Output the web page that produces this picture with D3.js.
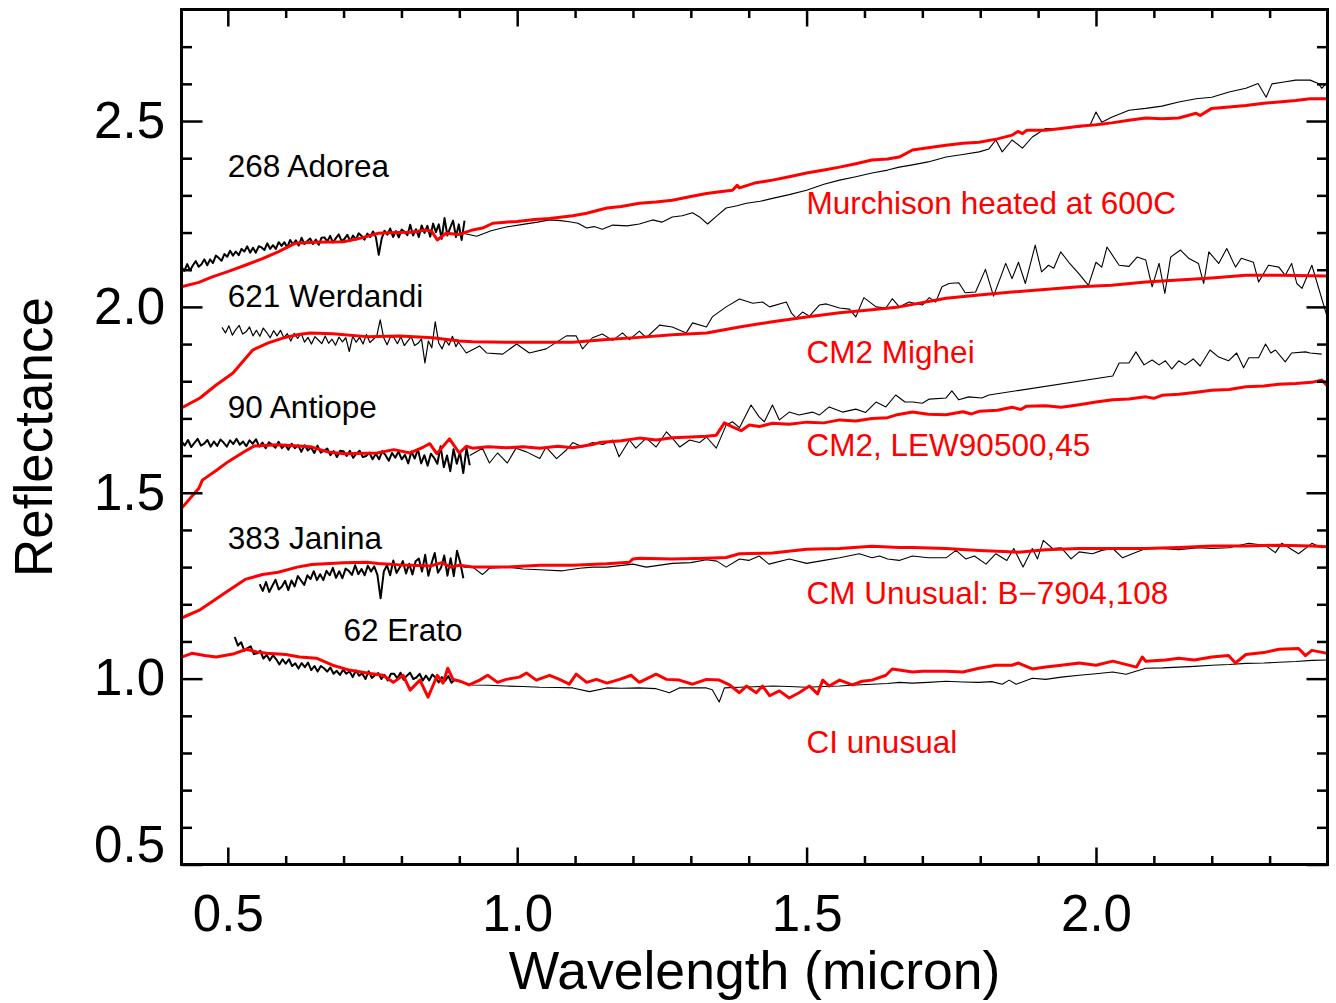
<!DOCTYPE html>
<html>
<head>
<meta charset="utf-8">
<script src="https://cdn.jsdelivr.net/npm/d3@7"></script>
<style>
  body { margin: 0; background: #fff; }
  svg { font-family: "Liberation Sans", Arial, Helvetica, sans-serif; }
</style>
</head>
<body>
<div id="chart"></div>
<script>
// ---- data (wavelength in micron, reflectance offset for display) ----

const asteroidNames = ["268 Adorea", "621 Werdandi", "90 Antiope", "383 Janina", "62 Erato"];
const meteoriteNames = ["Murchison heated at 600C", "CM2 Mighei", "CM2, LEW90500,45", "CM Unusual: B\u22127904,108", "CI unusual"];
const xTickLabels = [0.5, 1.0, 1.5, 2.0];
const yTickLabels = [0.5, 1.0, 1.5, 2.0, 2.5];

// visible spectra: evenly sampled between the two wavelengths of the range
const adoreaVisRange = [0.420, 0.909];
const adoreaVis = [
  2.107, 2.097, 2.115, 2.098, 2.112, 2.123, 2.108, 2.115, 2.128, 2.112,
  2.128, 2.118, 2.138, 2.132, 2.124, 2.142, 2.135, 2.151, 2.138, 2.149,
  2.139, 2.156, 2.149, 2.163, 2.146, 2.159, 2.146, 2.163, 2.160, 2.153,
  2.171, 2.156, 2.166, 2.156, 2.174, 2.164, 2.174, 2.160, 2.180, 2.168,
  2.179, 2.165, 2.186, 2.169, 2.177, 2.184, 2.169, 2.181, 2.167, 2.186,
  2.187, 2.176, 2.191, 2.173, 2.185, 2.195, 2.177, 2.183, 2.194, 2.177,
  2.192, 2.181, 2.198, 2.191, 2.181, 2.197, 2.188, 2.203, 2.187, 2.140,
  2.183, 2.205, 2.194, 2.211, 2.188, 2.204, 2.187, 2.208, 2.202, 2.193,
  2.221, 2.192, 2.209, 2.188, 2.219, 2.199, 2.218, 2.189, 2.224, 2.201,
  2.222, 2.183, 2.239, 2.192, 2.213, 2.232, 2.188, 2.222, 2.180, 2.232
];
const werdandiVisRange = [0.490, 0.900];
const werdandiVis = [
  1.945, 1.930, 1.949, 1.924, 1.939, 1.950, 1.927, 1.933, 1.946, 1.922,
  1.937, 1.921, 1.943, 1.931, 1.917, 1.936, 1.922, 1.937, 1.917, 1.928,
  1.908, 1.929, 1.915, 1.929, 1.905, 1.918, 1.900, 1.920, 1.911, 1.901,
  1.922, 1.902, 1.913, 1.897, 1.919, 1.906, 1.917, 1.880, 1.921, 1.905,
  1.918, 1.900, 1.926, 1.904, 1.913, 1.922, 1.965, 1.917, 1.898, 1.920,
  1.917, 1.901, 1.920, 1.896, 1.908, 1.920, 1.896, 1.902, 1.914, 1.849,
  1.908, 1.890, 1.960, 1.903, 1.887, 1.911, 1.897, 1.921, 1.893, 1.910
];
const antiopeVisRange = [0.420, 0.918];
const antiopeVis = [
  1.639, 1.627, 1.642, 1.623, 1.634, 1.645, 1.627, 1.632, 1.642, 1.624,
  1.638, 1.626, 1.643, 1.635, 1.624, 1.641, 1.631, 1.645, 1.629, 1.638,
  1.625, 1.641, 1.632, 1.644, 1.624, 1.635, 1.620, 1.636, 1.629, 1.621,
  1.637, 1.620, 1.629, 1.616, 1.632, 1.620, 1.628, 1.610, 1.628, 1.614,
  1.622, 1.607, 1.627, 1.608, 1.613, 1.619, 1.601, 1.612, 1.596, 1.613,
  1.612, 1.599, 1.613, 1.594, 1.605, 1.613, 1.596, 1.599, 1.608, 1.590,
  1.605, 1.590, 1.612, 1.601, 1.586, 1.607, 1.594, 1.611, 1.590, 1.602,
  1.579, 1.611, 1.592, 1.617, 1.579, 1.601, 1.573, 1.605, 1.594, 1.578,
  1.625, 1.569, 1.600, 1.558, 1.617, 1.578, 1.609, 1.553, 1.620, 1.574
];
const janinaVisRange = [0.555, 0.907];
const janinaVis = [
  1.254, 1.236, 1.260, 1.233, 1.250, 1.266, 1.240, 1.248, 1.263, 1.238,
  1.264, 1.248, 1.276, 1.264, 1.252, 1.278, 1.268, 1.289, 1.265, 1.281,
  1.265, 1.290, 1.278, 1.298, 1.271, 1.289, 1.270, 1.296, 1.290, 1.279,
  1.305, 1.281, 1.295, 1.278, 1.304, 1.288, 1.302, 1.279, 1.216, 1.288,
  1.305, 1.278, 1.318, 1.284, 1.299, 1.316, 1.283, 1.309, 1.280, 1.316,
  1.323, 1.288, 1.333, 1.277, 1.310, 1.338, 1.285, 1.299, 1.331, 1.277,
  1.324, 1.276, 1.344, 1.313, 1.270
];
const eratoVisRange = [0.512, 0.892];
const eratoVis = [
  1.112, 1.089, 1.098, 1.075, 1.082, 1.087, 1.066, 1.068, 1.075, 1.054,
  1.064, 1.049, 1.063, 1.052, 1.038, 1.052, 1.040, 1.052, 1.034, 1.041,
  1.027, 1.042, 1.031, 1.043, 1.023, 1.034, 1.019, 1.034, 1.028, 1.019,
  1.030, 1.013, 1.021, 1.010, 1.024, 1.013, 1.020, 1.004, 1.022, 1.008,
  1.014, 0.999, 1.020, 1.002, 1.009, 1.015, 0.999, 1.010, 0.995, 1.013,
  1.013, 1.001, 1.016, 0.997, 1.008, 1.016, 0.999, 1.003, 1.013, 0.995,
  1.008, 0.995, 1.011, 1.002, 0.990, 1.004, 0.994, 1.007, 0.989, 0.997
];

// near-infrared asteroid spectra [wavelength, reflectance]
const adoreaNir = [
  [0.900,2.200],[0.930,2.190],[0.955,2.205],[0.981,2.215],[1.010,2.222],[1.035,2.228],[1.056,2.234],[1.075,2.232],
  [1.090,2.229],[1.105,2.225],[1.120,2.212],[1.133,2.216],[1.147,2.209],[1.165,2.220],[1.190,2.218],[1.211,2.223],
  [1.234,2.234],[1.250,2.228],[1.268,2.242],[1.285,2.245],[1.303,2.253],[1.315,2.242],[1.329,2.223],[1.345,2.245],
  [1.361,2.266],[1.380,2.272],[1.396,2.279],[1.420,2.284],[1.441,2.292],[1.470,2.302],[1.500,2.314],[1.530,2.330],
  [1.557,2.341],[1.585,2.350],[1.613,2.360],[1.640,2.368],[1.660,2.376],[1.683,2.382],[1.710,2.390],[1.741,2.403],
  [1.770,2.410],[1.798,2.417],[1.815,2.425],[1.827,2.449],[1.838,2.417],[1.855,2.449],[1.873,2.427],[1.890,2.457],
  [1.913,2.480],[1.941,2.480],[1.971,2.484],[1.990,2.490],[2.000,2.524],[2.010,2.497],[2.027,2.510],[2.057,2.529],
  [2.086,2.534],[2.114,2.540],[2.143,2.551],[2.173,2.560],[2.200,2.564],[2.230,2.578],[2.259,2.588],[2.280,2.601],
  [2.294,2.564],[2.304,2.600],[2.325,2.605],[2.345,2.610],[2.370,2.610],[2.385,2.600],[2.390,2.588],[2.400,2.605]
];
const werdandiNir = [
  [0.895,1.913],[0.912,1.876],[0.935,1.895],[0.947,1.876],[0.975,1.873],[0.999,1.900],[1.021,1.876],[1.050,1.887],
  [1.085,1.922],[1.102,1.922],[1.113,1.887],[1.130,1.917],[1.147,1.927],[1.165,1.910],[1.182,1.930],[1.194,1.912],
  [1.211,1.935],[1.223,1.917],[1.246,1.951],[1.268,1.946],[1.292,1.930],[1.303,1.957],[1.327,1.946],[1.337,1.973],
  [1.361,2.000],[1.384,2.021],[1.407,2.010],[1.424,2.013],[1.436,2.000],[1.465,2.013],[1.474,1.983],[1.482,1.970],
  [1.493,1.986],[1.505,1.975],[1.522,2.005],[1.534,2.008],[1.557,1.997],[1.574,1.994],[1.585,1.973],[1.599,2.025],
  [1.620,2.000],[1.637,1.997],[1.648,2.022],[1.660,2.000],[1.677,2.013],[1.700,2.005],[1.712,2.025],[1.723,2.013],
  [1.734,2.054],[1.746,2.063],[1.763,2.065],[1.774,2.038],[1.792,2.040],[1.809,2.101],[1.823,2.029],[1.844,2.117],
  [1.855,2.076],[1.866,2.120],[1.878,2.063],[1.895,2.166],[1.906,2.094],[1.918,2.112],[1.927,2.104],[1.939,2.148],
  [1.953,2.120],[1.970,2.090],[1.987,2.058],[2.000,2.120],[2.010,2.107],[2.019,2.161],[2.040,2.112],[2.057,2.109],
  [2.071,2.134],[2.086,2.126],[2.097,2.054],[2.109,2.117],[2.119,2.036],[2.129,2.134],[2.146,2.153],[2.160,2.131],
  [2.177,2.117],[2.186,2.063],[2.195,2.148],[2.212,2.117],[2.226,2.157],[2.241,2.107],[2.251,2.131],[2.272,2.120],
  [2.281,2.067],[2.298,2.112],[2.316,2.107],[2.327,2.085],[2.338,2.117],[2.347,2.063],[2.356,2.050],[2.373,2.112],
  [2.400,1.970]
];
const antiopeNir = [
  [0.918,1.600],[0.940,1.620],[0.952,1.580],[0.966,1.607],[0.983,1.580],[0.998,1.620],[1.016,1.610],[1.039,1.592],
  [1.050,1.623],[1.068,1.592],[1.085,1.615],[1.096,1.635],[1.113,1.623],[1.130,1.635],[1.148,1.630],[1.165,1.642],
  [1.176,1.597],[1.194,1.642],[1.205,1.620],[1.223,1.647],[1.240,1.623],[1.258,1.664],[1.268,1.647],[1.281,1.623],
  [1.298,1.642],[1.315,1.635],[1.327,1.650],[1.344,1.620],[1.361,1.682],[1.372,1.691],[1.384,1.675],[1.404,1.736],
  [1.418,1.704],[1.427,1.691],[1.441,1.736],[1.453,1.696],[1.470,1.717],[1.487,1.709],[1.510,1.717],[1.522,1.709],
  [1.539,1.731],[1.562,1.717],[1.585,1.725],[1.602,1.716],[1.620,1.744],[1.637,1.731],[1.654,1.763],[1.670,1.744],
  [1.683,1.744],[1.700,1.741],[1.712,1.752],[1.741,1.755],[1.751,1.774],[1.763,1.750],[1.780,1.758],[1.803,1.755],
  [1.815,1.763],[2.029,1.814],[2.040,1.849],[2.057,1.849],[2.069,1.879],[2.083,1.844],[2.097,1.857],[2.109,1.844],
  [2.120,1.855],[2.131,1.833],[2.143,1.855],[2.154,1.844],[2.168,1.860],[2.180,1.841],[2.197,1.884],[2.212,1.865],
  [2.229,1.855],[2.243,1.876],[2.255,1.836],[2.264,1.863],[2.281,1.863],[2.293,1.900],[2.302,1.876],[2.310,1.884],
  [2.327,1.852],[2.338,1.876],[2.362,1.879],[2.370,1.876],[2.390,1.873]
];
const janinaNir = [
  [0.907,1.300],[0.923,1.300],[0.940,1.280],[0.952,1.297],[0.981,1.300],[1.010,1.295],[1.039,1.293],[1.078,1.290],
  [1.108,1.297],[1.130,1.300],[1.155,1.300],[1.200,1.308],[1.223,1.300],[1.250,1.306],[1.268,1.310],[1.300,1.312],
  [1.327,1.320],[1.345,1.316],[1.361,1.300],[1.384,1.322],[1.400,1.318],[1.418,1.330],[1.435,1.308],[1.470,1.322],
  [1.500,1.310],[1.530,1.318],[1.557,1.325],[1.591,1.336],[1.613,1.325],[1.626,1.330],[1.640,1.322],[1.660,1.318],
  [1.683,1.330],[1.710,1.325],[1.741,1.325],[1.758,1.345],[1.775,1.322],[1.790,1.330],[1.810,1.308],[1.827,1.336],
  [1.846,1.318],[1.858,1.350],[1.874,1.300],[1.890,1.350],[1.899,1.322],[1.909,1.372],[1.925,1.350],[1.940,1.352],
  [1.957,1.322],[1.971,1.341],[1.994,1.336],[2.010,1.345],[2.029,1.350],[2.046,1.325],[2.063,1.336],[2.086,1.350],
  [2.114,1.350],[2.143,1.347],[2.177,1.352],[2.200,1.350],[2.229,1.352],[2.264,1.364],[2.293,1.358],[2.310,1.339],
  [2.321,1.364],[2.350,1.336],[2.373,1.364],[2.390,1.352],[2.400,1.355]
];
const eratoNir = [
  [0.889,0.996],[0.923,0.983],[0.950,0.982],[0.981,0.980],[1.010,0.979],[1.039,0.977],[1.070,0.976],[1.096,0.975],
  [1.125,0.965],[1.155,0.975],[1.180,0.974],[1.211,0.975],[1.240,0.973],[1.263,0.962],[1.280,0.975],[1.300,0.975],
  [1.327,0.975],[1.337,0.970],[1.349,0.937],[1.358,0.975],[1.384,0.977],[1.410,0.978],[1.441,0.980],[1.470,0.979],
  [1.500,0.977],[1.530,0.979],[1.557,0.980],[1.585,0.983],[1.613,0.985],[1.640,0.987],[1.660,0.990],[1.683,0.988],
  [1.710,0.990],[1.741,0.993],[1.770,0.991],[1.798,0.990],[1.820,0.992],[1.838,0.985],[1.850,0.996],[1.862,0.985],
  [1.890,1.001],[1.913,0.998],[1.940,1.004],[1.971,1.009],[2.000,1.013],[2.029,1.018],[2.052,1.012],[2.086,1.028],
  [2.115,1.029],[2.143,1.031],[2.170,1.033],[2.200,1.036],[2.230,1.038],[2.259,1.041],[2.290,1.042],[2.316,1.044],
  [2.345,1.046],[2.373,1.049],[2.400,1.050]
];

// meteorite laboratory spectra [wavelength, reflectance]
const murchisonHeated = [
  [0.420,2.054],[0.450,2.066],[0.472,2.080],[0.500,2.095],[0.530,2.112],[0.560,2.130],[0.587,2.148],[0.616,2.171],
  [0.650,2.174],[0.700,2.175],[0.730,2.185],[0.760,2.198],[0.790,2.200],[0.817,2.201],[0.842,2.207],[0.852,2.204],
  [0.862,2.180],[0.877,2.198],[0.900,2.195],[0.923,2.207],[0.940,2.212],[0.958,2.225],[0.980,2.228],[1.000,2.230],
  [1.030,2.235],[1.056,2.238],[1.096,2.245],[1.120,2.252],[1.155,2.266],[1.180,2.270],[1.211,2.279],[1.240,2.282],
  [1.268,2.287],[1.300,2.297],[1.327,2.305],[1.350,2.310],[1.372,2.314],[1.380,2.327],[1.384,2.320],[1.410,2.333],
  [1.441,2.341],[1.470,2.350],[1.500,2.360],[1.530,2.368],[1.557,2.376],[1.585,2.385],[1.613,2.395],[1.640,2.398],
  [1.660,2.403],[1.683,2.422],[1.710,2.428],[1.741,2.435],[1.770,2.440],[1.798,2.443],[1.830,2.452],[1.855,2.462],
  [1.865,2.472],[1.873,2.466],[1.880,2.475],[1.913,2.475],[1.940,2.480],[1.971,2.486],[2.000,2.490],[2.027,2.495],
  [2.057,2.502],[2.086,2.508],[2.114,2.506],[2.143,2.508],[2.173,2.521],[2.180,2.515],[2.200,2.534],[2.230,2.538],
  [2.259,2.542],[2.290,2.548],[2.316,2.551],[2.345,2.555],[2.370,2.560],[2.400,2.560]
];
const mighei = [
  [0.420,1.728],[0.452,1.755],[0.480,1.790],[0.509,1.822],[0.543,1.884],[0.570,1.903],[0.595,1.916],[0.620,1.925],
  [0.642,1.930],[0.681,1.928],[0.740,1.920],[0.797,1.922],[0.854,1.917],[0.900,1.908],[0.923,1.906],[0.981,1.905],
  [1.096,1.905],[1.155,1.912],[1.211,1.918],[1.268,1.925],[1.327,1.930],[1.384,1.946],[1.441,1.960],[1.500,1.973],
  [1.557,1.984],[1.613,1.992],[1.660,2.000],[1.741,2.023],[1.798,2.032],[1.855,2.040],[1.971,2.054],[2.027,2.058],
  [2.086,2.067],[2.200,2.078],[2.259,2.085],[2.316,2.085],[2.400,2.083]
];
const lew90500 = [
  [0.420,1.458],[0.450,1.512],[0.456,1.534],[0.480,1.560],[0.500,1.583],[0.529,1.611],[0.546,1.626],[0.586,1.629],
  [0.643,1.624],[0.672,1.610],[0.701,1.605],[0.758,1.607],[0.787,1.616],[0.815,1.607],[0.838,1.623],[0.849,1.632],
  [0.861,1.605],[0.883,1.645],[0.900,1.607],[0.912,1.625],[0.923,1.620],[0.950,1.624],[0.981,1.621],[1.010,1.624],
  [1.039,1.620],[1.070,1.625],[1.096,1.621],[1.130,1.630],[1.142,1.635],[1.180,1.640],[1.211,1.647],[1.240,1.642],
  [1.268,1.648],[1.300,1.650],[1.327,1.652],[1.344,1.655],[1.358,1.688],[1.372,1.677],[1.387,1.667],[1.401,1.682],
  [1.418,1.678],[1.441,1.687],[1.470,1.684],[1.500,1.690],[1.530,1.688],[1.557,1.696],[1.585,1.693],[1.613,1.700],
  [1.640,1.702],[1.654,1.709],[1.683,1.717],[1.710,1.711],[1.741,1.710],[1.770,1.718],[1.785,1.712],[1.798,1.719],
  [1.830,1.722],[1.855,1.730],[1.870,1.724],[1.880,1.733],[1.913,1.734],[1.940,1.730],[1.971,1.737],[2.000,1.744],
  [2.029,1.750],[2.057,1.752],[2.086,1.758],[2.100,1.754],[2.114,1.762],[2.143,1.765],[2.170,1.770],[2.200,1.776],
  [2.230,1.778],[2.259,1.785],[2.290,1.787],[2.316,1.792],[2.345,1.794],[2.373,1.797],[2.390,1.803],[2.400,1.787]
];
const b7904 = [
  [0.420,1.163],[0.452,1.185],[0.472,1.206],[0.500,1.236],[0.530,1.267],[0.560,1.280],[0.587,1.286],[0.620,1.300],
  [0.645,1.307],[0.700,1.312],[0.740,1.313],[0.760,1.310],[0.797,1.306],[0.818,1.305],[0.850,1.303],[0.870,1.312],
  [0.885,1.300],[0.900,1.305],[0.923,1.300],[0.981,1.300],[1.039,1.305],[1.096,1.305],[1.155,1.309],[1.194,1.313],
  [1.200,1.322],[1.211,1.324],[1.268,1.322],[1.327,1.324],[1.361,1.326],[1.384,1.336],[1.441,1.338],[1.500,1.348],
  [1.557,1.350],[1.613,1.356],[1.660,1.353],[1.683,1.353],[1.741,1.350],[1.798,1.345],[1.840,1.342],[1.866,1.340],
  [1.913,1.347],[1.971,1.350],[2.029,1.350],[2.086,1.350],[2.143,1.353],[2.200,1.357],[2.259,1.357],[2.316,1.359],
  [2.373,1.357],[2.400,1.355]
];
const ciUnusual = [
  [0.420,1.058],[0.438,1.068],[0.460,1.062],[0.480,1.058],[0.509,1.066],[0.532,1.079],[0.550,1.072],[0.567,1.068],
  [0.600,1.065],[0.624,1.058],[0.653,1.055],[0.681,1.036],[0.710,1.023],[0.740,1.015],[0.768,1.009],[0.786,0.990],
  [0.803,1.009],[0.815,0.969],[0.832,0.996],[0.846,0.950],[0.862,1.009],[0.872,0.988],[0.880,1.028],[0.889,0.998],
  [0.900,0.994],[0.917,0.983],[0.935,0.996],[0.949,1.009],[0.966,0.990],[0.981,0.998],[1.004,1.004],[1.016,1.015],
  [1.033,0.996],[1.056,1.009],[1.073,0.998],[1.090,0.985],[1.102,1.012],[1.120,0.990],[1.137,0.998],[1.155,0.988],
  [1.177,0.998],[1.197,1.009],[1.211,0.990],[1.240,1.012],[1.258,0.998],[1.280,0.996],[1.303,0.985],[1.327,0.998],
  [1.349,0.996],[1.367,0.983],[1.384,0.962],[1.396,0.980],[1.413,0.962],[1.424,0.980],[1.436,0.954],[1.453,0.967],
  [1.470,0.948],[1.487,0.962],[1.505,0.980],[1.519,0.959],[1.528,0.996],[1.539,0.980],[1.557,0.996],[1.579,0.983],
  [1.596,0.993],[1.613,0.996],[1.637,1.009],[1.648,1.026],[1.660,1.023],[1.683,1.018],[1.700,1.020],[1.741,1.020],
  [1.770,1.018],[1.798,1.028],[1.827,1.036],[1.855,1.036],[1.866,1.042],[1.890,1.026],[1.913,1.031],[1.940,1.036],
  [1.971,1.042],[2.000,1.036],[2.029,1.047],[2.070,1.031],[2.080,1.058],[2.086,1.047],[2.120,1.050],[2.143,1.055],
  [2.170,1.050],[2.200,1.058],[2.229,1.062],[2.241,1.042],[2.259,1.065],[2.290,1.070],[2.316,1.079],[2.350,1.081],
  [2.362,1.062],[2.373,1.076],[2.400,1.068]
];

// ---- chart ----
const W = 1336, H = 1003;
const margin = { top: 9.5, right: 8.5, bottom: 138.5, left: 181.5 };
const plotW = W - margin.left - margin.right;
const plotH = H - margin.top - margin.bottom;

const svg = d3.select("#chart").append("svg")
    .attr("width", W)
    .attr("height", H);

const g = svg.append("g")
    .attr("transform", "translate(" + margin.left + "," + margin.top + ")");

const x = d3.scaleLinear().domain([0.42, 2.40]).range([0, plotW]);
const y = d3.scaleLinear().domain([0.5, 2.8]).range([plotH, 0]);

// turn an evenly sampled visible spectrum into [wavelength, value] pairs
function sampled(range, values) {
    const step = (range[1] - range[0]) / (values.length - 1);
    return values.map((v, i) => [range[0] + i * step, v]);
}

g.append("defs").append("clipPath")
    .attr("id", "clip")
    .append("rect")
    .attr("width", plotW)
    .attr("height", plotH);

const line = d3.line()
    .x(d => x(d[0]))
    .y(d => y(d[1]));

const plotArea = g.append("g").attr("clip-path", "url(#clip)");

// black asteroid spectra
const visSets = [
    sampled(adoreaVisRange, adoreaVis),
    sampled(werdandiVisRange, werdandiVis),
    sampled(antiopeVisRange, antiopeVis),
    sampled(janinaVisRange, janinaVis),
    sampled(eratoVisRange, eratoVis)
];
const nirSets = [adoreaNir, werdandiNir, antiopeNir, janinaNir, eratoNir];

plotArea.selectAll(".vis")
    .data(visSets)
    .enter().append("path")
    .attr("class", "vis")
    .attr("d", line)
    .attr("fill", "none")
    .attr("stroke", "#000")
    .attr("stroke-width", (d, i) => i === 1 ? 1.2 : 2)
    .attr("stroke-linejoin", "round");

plotArea.selectAll(".nir")
    .data(nirSets)
    .enter().append("path")
    .attr("class", "nir")
    .attr("d", line)
    .attr("fill", "none")
    .attr("stroke", "#000")
    .attr("stroke-width", 1.1)
    .attr("stroke-linejoin", "round");

// red meteorite spectra
const labSets = [murchisonHeated, mighei, lew90500, b7904, ciUnusual];
plotArea.selectAll(".lab")
    .data(labSets)
    .enter().append("path")
    .attr("class", "lab")
    .attr("d", line)
    .attr("fill", "none")
    .attr("stroke", "#ff0000")
    .attr("stroke-width", 3)
    .attr("stroke-linejoin", "round");

// axes: major + minor ticks on all four sides, pointing inward
const minorX = d3.range(6, 24).map(d => d / 10).filter(d => Math.round(d * 10) % 5 !== 0);
const minorY = d3.range(6, 28).map(d => d / 10).filter(d => Math.round(d * 10) % 5 !== 0);

function styleAxis(sel) {
    sel.select(".domain").remove();
    sel.selectAll(".tick line").attr("stroke", "#000").attr("stroke-width", 2.5);
    sel.selectAll("text").attr("fill", "#000").style("font-size", "51px");
}

const xBottom = g.append("g").attr("transform", "translate(0," + plotH + ")")
    .call(d3.axisBottom(x).tickValues(xTickLabels).tickSize(-17).tickPadding(30).tickFormat(d3.format(".1f")));
styleAxis(xBottom);
styleAxis(g.append("g").attr("transform", "translate(0," + plotH + ")")
    .call(d3.axisBottom(x).tickValues(minorX).tickSize(-8.5).tickFormat("")));
styleAxis(g.append("g")
    .call(d3.axisTop(x).tickValues(xTickLabels).tickSize(-17).tickFormat("")));
styleAxis(g.append("g")
    .call(d3.axisTop(x).tickValues(minorX).tickSize(-8.5).tickFormat("")));

const yLeft = g.append("g")
    .call(d3.axisLeft(y).tickValues(yTickLabels).tickSize(-21).tickPadding(16.5).tickFormat(d3.format(".1f")));
styleAxis(yLeft);
// bottom-most label sits above the corner
yLeft.selectAll(".tick text").filter(d => d === 0.5).attr("dy", "-0.05em");
styleAxis(g.append("g")
    .call(d3.axisLeft(y).tickValues(minorY).tickSize(-10.5).tickFormat("")));
styleAxis(g.append("g").attr("transform", "translate(" + plotW + ",0)")
    .call(d3.axisRight(y).tickValues(yTickLabels).tickSize(-21).tickFormat("")));
styleAxis(g.append("g").attr("transform", "translate(" + plotW + ",0)")
    .call(d3.axisRight(y).tickValues(minorY).tickSize(-10.5).tickFormat("")));

g.append("rect")
    .attr("width", plotW)
    .attr("height", plotH)
    .attr("fill", "none")
    .attr("stroke", "#000")
    .attr("stroke-width", 3);

// axis titles
g.append("text")
    .attr("x", plotW / 2)
    .attr("y", plotH + 124)
    .attr("text-anchor", "middle")
    .style("font-size", "53.5px")
    .text("Wavelength (micron)");

svg.append("text")
    .attr("transform", "translate(52," + (margin.top + plotH / 2) + ") rotate(-90)")
    .attr("text-anchor", "middle")
    .style("font-size", "53px")
    .text("Reflectance");

// spectrum labels (anchored in data coordinates)
const asteroidLabelAt = [[0.50, 2.35], [0.50, 2.00], [0.50, 1.70], [0.50, 1.35], [0.70, 1.10]];
const meteoriteLabelAt = [[1.50, 2.25], [1.50, 1.85], [1.50, 1.60], [1.50, 1.20], [1.50, 0.80]];

g.selectAll(".astLabel")
    .data(asteroidNames)
    .enter().append("text")
    .attr("class", "astLabel")
    .attr("x", (d, i) => x(asteroidLabelAt[i][0]))
    .attr("y", (d, i) => y(asteroidLabelAt[i][1]))
    .attr("fill", "#000")
    .style("font-size", "31.5px")
    .text(d => d);

g.selectAll(".metLabel")
    .data(meteoriteNames)
    .enter().append("text")
    .attr("class", "metLabel")
    .attr("x", (d, i) => x(meteoriteLabelAt[i][0]))
    .attr("y", (d, i) => y(meteoriteLabelAt[i][1]))
    .attr("fill", "#ff0000")
    .style("font-size", "31.5px")
    .text(d => d);
</script>
</body>
</html>
